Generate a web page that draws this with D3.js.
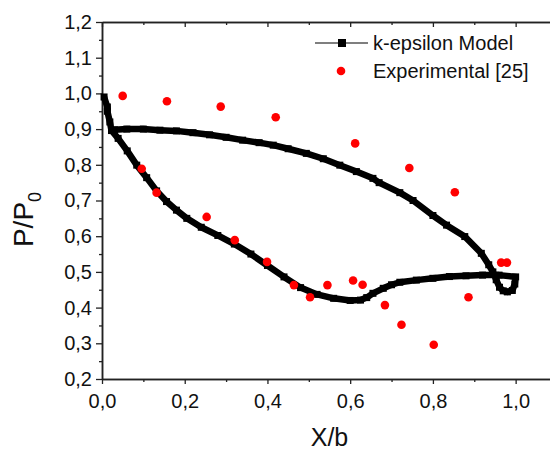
<!DOCTYPE html>
<html>
<head>
<meta charset="utf-8">
<script src="https://cdn.jsdelivr.net/npm/d3@7"></script>
<style>
  body { margin: 0; background: #fff; }
  svg { font-family: "Liberation Sans", Arial, sans-serif; }
</style>
</head>
<body>
<div id="chart"></div>
<script>
// k-epsilon model: traced around the loop (LE -> upper side -> TE loop -> lower side -> LE)
const modelX = [0.005, 0.013, 0.013, 0.019, 0.023, 0.03, 0.06, 0.10, 0.14, 0.18, 0.22, 0.26, 0.30, 0.34, 0.38,
  0.414, 0.45, 0.494, 0.535, 0.575, 0.615, 0.655, 0.67, 0.72, 0.752, 0.80, 0.833, 0.877, 0.917, 0.935, 0.945,
  0.953, 0.961, 0.97, 0.98, 0.992, 0.998, 1.0,
  0.96, 0.92, 0.88, 0.84, 0.80, 0.76, 0.72, 0.70, 0.68, 0.655, 0.64, 0.625, 0.60, 0.56, 0.52, 0.48, 0.44,
  0.40, 0.36, 0.32, 0.28, 0.24, 0.205, 0.18, 0.156, 0.132, 0.108, 0.084, 0.061, 0.039, 0.023];
const modelY = [0.99, 0.962, 0.95, 0.92, 0.896, 0.898, 0.900, 0.900, 0.897, 0.895, 0.890, 0.884, 0.877, 0.869, 0.862,
  0.855, 0.845, 0.832, 0.817, 0.799, 0.781, 0.762, 0.750, 0.722, 0.700, 0.658, 0.631, 0.599, 0.552, 0.52, 0.500,
  0.478, 0.457, 0.447, 0.444, 0.448, 0.466, 0.486,
  0.491, 0.491, 0.489, 0.487, 0.482, 0.477, 0.471, 0.464, 0.454, 0.440, 0.428, 0.421, 0.420, 0.426, 0.437, 0.456, 0.486,
  0.518, 0.550, 0.578, 0.602, 0.625, 0.650, 0.673, 0.697, 0.727, 0.764, 0.799, 0.839, 0.874, 0.896];

// Experimental [25]
const expX = [0.050, 0.157, 0.287, 0.420, 0.612, 0.743, 0.853, 0.965, 0.979,
  0.096, 0.132, 0.253, 0.321, 0.399, 0.464, 0.503, 0.545, 0.607, 0.630, 0.684, 0.724, 0.802, 0.886];
const expY = [0.993, 0.978, 0.963, 0.933, 0.860, 0.791, 0.723, 0.526, 0.526,
  0.789, 0.722, 0.654, 0.589, 0.528, 0.463, 0.429, 0.463, 0.476, 0.464, 0.407, 0.352, 0.296, 0.429];

const xMajor = [0.0, 0.2, 0.4, 0.6, 0.8, 1.0];
const xMinor = [0.1, 0.3, 0.5, 0.7, 0.9];
const yMajor = [0.2, 0.3, 0.4, 0.5, 0.6, 0.7, 0.8, 0.9, 1.0, 1.1, 1.2];
const yMinor = [0.25, 0.35, 0.45, 0.55, 0.65, 0.75, 0.85, 0.95, 1.05, 1.15];

const legendLabels = ['k-epsilon Model', 'Experimental [25]'];

const width = 550, height = 451;
const margin = { top: 22, right: -7, bottom: 72, left: 102 };

const svg = d3.select('#chart').append('svg')
    .attr('width', width)
    .attr('height', height);

const x = d3.scaleLinear().domain([0, 1.1]).range([margin.left, width - margin.right]);
const y = d3.scaleLinear().domain([0.2, 1.2]).range([height - margin.bottom, margin.top]);

const fmt = d3.formatLocale({ decimal: ',', thousands: '.', grouping: [3], currency: ['', ''] }).format('.1f');

// Axes
function styleAxis(g) {
    g.selectAll('.domain').attr('stroke', '#222').attr('stroke-width', 1.5);
    g.selectAll('.tick line').attr('stroke', '#222').attr('stroke-width', 1.3);
    g.selectAll('.tick text').attr('fill', '#111').style('font-size', '20px');
}

const bottomY = y(0.2);
svg.append('g').attr('transform', `translate(0,${bottomY})`)
    .call(d3.axisBottom(x).tickValues(xMajor).tickSize(5).tickSizeOuter(0).tickPadding(10).tickFormat(fmt))
    .call(styleAxis);
svg.append('g').attr('transform', `translate(0,${bottomY})`)
    .call(d3.axisBottom(x).tickValues(xMinor).tickSize(3).tickSizeOuter(0).tickFormat(''))
    .call(styleAxis);

// top axis, ticks pointing inward
svg.append('g').attr('transform', `translate(0,${y(1.2)})`)
    .call(d3.axisBottom(x).tickValues(xMajor).tickSize(5).tickSizeOuter(0).tickFormat(''))
    .call(styleAxis);
svg.append('g').attr('transform', `translate(0,${y(1.2)})`)
    .call(d3.axisBottom(x).tickValues(xMinor).tickSize(3).tickSizeOuter(0).tickFormat(''))
    .call(styleAxis);

svg.append('g').attr('transform', `translate(${x(0)},0)`)
    .call(d3.axisLeft(y).tickValues(yMajor).tickSize(6).tickSizeOuter(0).tickPadding(4).tickFormat(fmt))
    .call(styleAxis);
svg.append('g').attr('transform', `translate(${x(0)},0)`)
    .call(d3.axisLeft(y).tickValues(yMinor).tickSize(3).tickSizeOuter(0).tickFormat(''))
    .call(styleAxis);

// Axis titles
svg.append('text')
    .attr('x', (x(0) + x(1.1)) / 2)
    .attr('y', 446)
    .attr('text-anchor', 'middle')
    .style('font-size', '25px')
    .attr('fill', '#111')
    .text('X/b');

const yTitle = svg.append('text')
    .attr('transform', `translate(33,${(y(0.2) + y(1.2)) / 2 + 19}) rotate(-90)`)
    .attr('text-anchor', 'middle')
    .style('font-size', '28px')
    .attr('fill', '#111');
yTitle.append('tspan').text('P/P');
yTitle.append('tspan').attr('dy', 8).style('font-size', '18px').text('0');

// Model curve
const model = modelX.map((d, i) => [d, modelY[i]]);
const line = d3.line().x(d => x(d[0])).y(d => y(d[1]));

svg.append('path')
    .datum(model)
    .attr('fill', 'none')
    .attr('stroke', '#000')
    .attr('stroke-width', 6.5)
    .attr('stroke-linejoin', 'round')
    .attr('d', line);

const sq = 7;
svg.append('g').selectAll('rect')
    .data(model)
    .join('rect')
    .attr('x', d => x(d[0]) - sq / 2)
    .attr('y', d => y(d[1]) - sq / 2)
    .attr('width', sq)
    .attr('height', sq)
    .attr('fill', '#000');

// Experimental points
const exp = expX.map((d, i) => [d, expY[i]]);
svg.append('g').selectAll('circle')
    .data(exp)
    .join('circle')
    .attr('cx', d => x(d[0]))
    .attr('cy', d => y(d[1]))
    .attr('r', 4.3)
    .attr('fill', '#ff0000');

// Legend
const legend = svg.append('g').attr('transform', 'translate(315,43)');
legend.append('line')
    .attr('x1', 0).attr('x2', 53).attr('y1', 0).attr('y2', 0)
    .attr('stroke', '#000').attr('stroke-width', 1.2);
legend.append('rect')
    .attr('x', 27 - 4).attr('y', -4).attr('width', 8).attr('height', 8)
    .attr('fill', '#000');
legend.append('circle')
    .attr('cx', 26).attr('cy', 28).attr('r', 4.3)
    .attr('fill', '#ff0000');
legend.selectAll('text.lbl')
    .data(legendLabels)
    .join('text')
    .attr('class', 'lbl')
    .attr('x', 58)
    .attr('y', (d, i) => 7 + i * 28)
    .style('font-size', '20px')
    .attr('fill', '#111')
    .text(d => d);
</script>
</body>
</html>
